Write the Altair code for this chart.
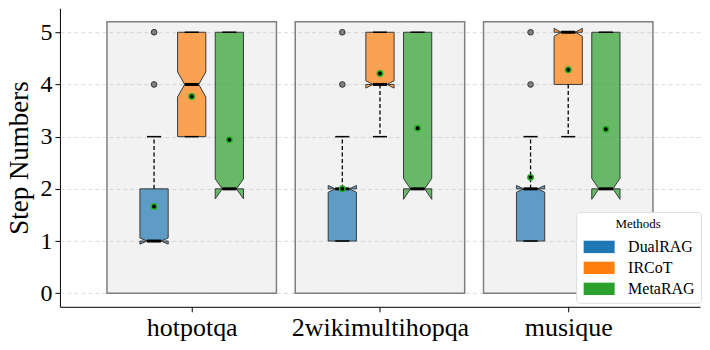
import json
import altair as alt
import pandas as pd

# ---------------- data ----------------
datasets = ["hotpotqa", "2wikimultihopqa", "musique"]
methods = ["DualRAG", "IRCoT", "MetaRAG"]
colors = ["#1f77b4", "#ff7f0e", "#2ca02c"]

# one entry per (dataset, method), dataset-major order
box_dataset = ["hotpotqa"] * 3 + ["2wikimultihopqa"] * 3 + ["musique"] * 3
box_method = methods * 3
q1 = [1, 3, 2, 1, 4, 2, 1, 4, 2]
median = [1, 4, 2, 2, 4, 2, 2, 5, 2]
q3 = [2, 5, 5, 2, 5, 5, 2, 5, 5]
whisker_low = [1, 3, 2, 1, 3, 2, 1, 3, 2]
whisker_high = [3, 5, 5, 3, 5, 5, 3, 5, 5]
notch_half = [0.06, 0.24, 0.19, 0.065, 0.07, 0.2, 0.065, 0.075, 0.2]
means = [1.66, 3.77, 2.94, 2.0, 4.21, 3.16, 2.22, 4.28, 3.14]

outlier_dataset = ["hotpotqa", "hotpotqa", "2wikimultihopqa", "2wikimultihopqa", "musique", "musique"]
outlier_method = ["DualRAG"] * 6
outlier_value = [4, 5, 4, 5, 4, 5]

group_bg_low = [0, 0, 0]
group_bg_high = [5.2, 5.2, 5.2]

# ---------------- layout constants ----------------
BOX_W = 0.15
OFFSET = {"DualRAG": -0.2, "IRCoT": 0.0, "MetaRAG": 0.2}
GROUP_HALF = 0.45
FONT = "Liberation Serif"
FONT_EXPR = alt.ExprRef(expr="'Liberation Serif, Times New Roman, serif'")


def pos_of(d, m):
    return datasets.index(d) + OFFSET[m]


# ---------------- derived tables ----------------
poly_rows, whisk_rows, cap_rows, med_rows, mean_rows = [], [], [], [], []
for k in range(len(box_method)):
    d, m = box_dataset[k], box_method[k]
    p = pos_of(d, m)
    L, R = p - BOX_W / 2, p + BOX_W / 2
    CL, CR = p - BOX_W / 4, p + BOX_W / 4
    nmin, nmax = median[k] - notch_half[k], median[k] + notch_half[k]
    xs = [L, R, R, CR, R, R, L, L, CL, L, L]
    ys = [q1[k], q1[k], nmin, median[k], nmax, q3[k], q3[k], nmax, median[k], nmin, q1[k]]
    for v, (xx, yy) in enumerate(zip(xs, ys)):
        poly_rows.append({"box": k, "v": v, "x": xx, "y": yy, "method": m})
    whisk_rows.append({"x": p, "y": q3[k], "y2": whisker_high[k]})
    whisk_rows.append({"x": p, "y": q1[k], "y2": whisker_low[k]})
    cap_rows.append({"x": CL, "x2": CR, "y": whisker_high[k]})
    cap_rows.append({"x": CL, "x2": CR, "y": whisker_low[k]})
    med_rows.append({"x": CL, "x2": CR, "y": median[k]})
    mean_rows.append({"x": p, "y": means[k]})

out_rows = [{"x": pos_of(d, m), "y": v} for d, m, v in zip(outlier_dataset, outlier_method, outlier_value)]
bg_rows = [{"x": i - GROUP_HALF, "x2": i + GROUP_HALF, "y": lo, "y2": hi}
           for i, (lo, hi) in enumerate(zip(group_bg_low, group_bg_high))]

label_expr = json.dumps(datasets) + "[datum.value]"

x_scale = alt.Scale(domain=[-0.7, 2.7], nice=False, zero=False)
y_scale = alt.Scale(domain=[-0.26, 5.46], nice=False, zero=False)

x_axis = alt.Axis(values=[0, 1, 2], labelExpr=label_expr, title=None, grid=False,
                  labelFontSize=26, tickSize=5, labelPadding=3, labelColor="black",
                  domainColor="black", tickColor="black", labelFont=FONT_EXPR)
y_axis = alt.Axis(values=[0, 1, 2, 3, 4, 5], title="Step Numbers", grid=True,
                  gridDash=[4, 3], gridColor="#cccccc", gridWidth=0.7,
                  labelFontSize=24, titleFontSize=27, titleFontWeight="normal",
                  tickSize=5, labelPadding=3, titlePadding=6, labelColor="black",
                  titleColor="black", domainColor="black", tickColor="black",
                  labelFont=FONT_EXPR, titleFont=FONT)

X = lambda f="x": alt.X(f"{f}:Q", scale=x_scale, axis=x_axis)
Y = lambda f="y": alt.Y(f"{f}:Q", scale=y_scale, axis=y_axis)

bg = alt.Chart(pd.DataFrame(bg_rows)).mark_rect(
    fill="#bfbfbf", fillOpacity=0.2, stroke="#7f7f7f", strokeWidth=1.5
).encode(x=X(), x2="x2:Q", y=Y(), y2="y2:Q")

boxes = alt.Chart(pd.DataFrame(poly_rows)).mark_line(
    stroke="#3a3a3a", strokeWidth=1, fillOpacity=0.7, fill="#1f77b4"
).encode(
    x=X(), y=Y(),
    fill=alt.Fill("method:N", scale=alt.Scale(domain=methods, range=colors),
                  legend=alt.Legend(title="Methods", orient="none", legendX=517, legendY=204,
                                    symbolType="M-2.5,-1H2.5V1H-2.5Z", symbolSize=154,
                                    symbolOffset=9, labelOffset=21,
                                    symbolStrokeWidth=0, symbolOpacity=1,
                                    labelFontSize=16, titleFontSize=13, titleFontWeight="normal",
                                    labelFont=FONT, titleFont=FONT, titleAnchor="middle",
                                    labelColor="black", titleColor="black",
                                    fillColor="white", strokeColor="#dddddd", cornerRadius=3,
                                    padding=6, rowPadding=5, titlePadding=8)),
    detail="box:N",
    order=alt.Order("v:Q"),
)

whiskers = alt.Chart(pd.DataFrame(whisk_rows)).mark_rule(
    color="black", strokeWidth=1.3, strokeDash=[4, 2.5]
).encode(x=X(), y=Y(), y2="y2:Q")

caps = alt.Chart(pd.DataFrame(cap_rows)).mark_rule(color="black", strokeWidth=1.5).encode(
    x=X(), x2="x2:Q", y=Y())

meds = alt.Chart(pd.DataFrame(med_rows)).mark_rule(color="black", strokeWidth=3).encode(
    x=X(), x2="x2:Q", y=Y())

fliers = alt.Chart(pd.DataFrame(out_rows)).mark_point(
    shape="circle", filled=True, fill="#808080", stroke="#333333", strokeWidth=1,
    size=32, opacity=1
).encode(x=X(), y=Y())

mean_pts = alt.Chart(pd.DataFrame(mean_rows)).mark_point(
    shape="circle", filled=True, fill="black", stroke="#22b022", strokeWidth=1.5,
    size=30, opacity=1
).encode(x=X(), y=Y())

chart = alt.layer(bg, boxes, whiskers, caps, meds, fliers, mean_pts).properties(
    width=641, height=299,
    autosize=alt.AutoSizeParams(type="none"),
    padding={"left": 52, "top": 0, "right": 2, "bottom": 36},
).configure(
    font=FONT,
    style={"guide-label": {"font": FONT}, "guide-title": {"font": FONT}},
).configure_view(stroke=None).configure_axis(
    labelFont=FONT, titleFont=FONT
).configure_legend(labelFont=FONT, titleFont=FONT)

chart.save("out.html", embed_options={"renderer": "svg", "actions": False})
